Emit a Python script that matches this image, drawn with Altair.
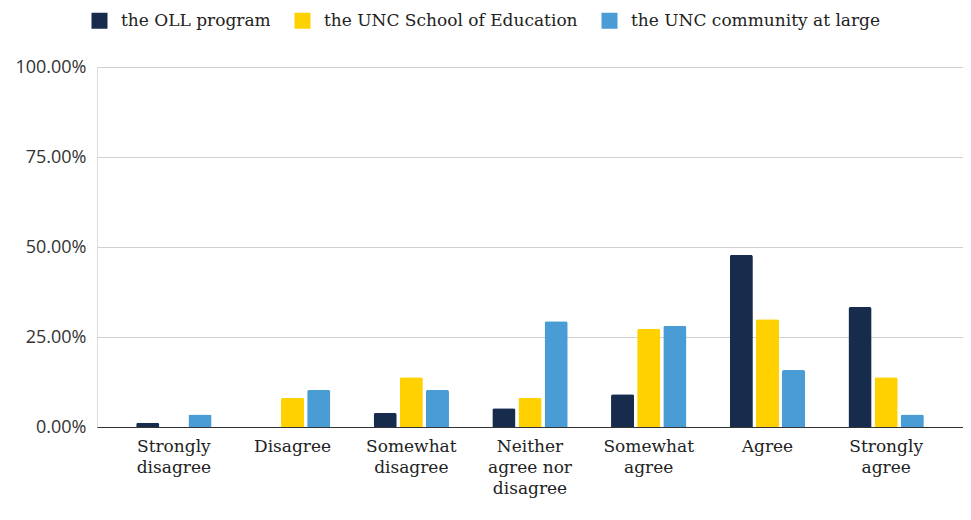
import altair as alt
import pandas as pd

categories = ["Strongly disagree", "Disagree", "Somewhat disagree",
              "Neither agree nor disagree", "Somewhat agree", "Agree", "Strongly agree"]
series = ["the OLL program", "the UNC School of Education", "the UNC community at large"]
oll = [0.012, 0.0, 0.039, 0.052, 0.091, 0.478, 0.333]
school = [0.0, 0.081, 0.138, 0.081, 0.273, 0.299, 0.138]
community = [0.035, 0.103, 0.103, 0.294, 0.281, 0.158, 0.035]
colors = ["#172b4d", "#ffd100", "#4a9cd4"]

rows = []
for s, vals in zip(series, [oll, school, community]):
    for c, v in zip(categories, vals):
        rows.append({"category": c, "series": s, "value": v})
df = pd.DataFrame(rows)

label_expr = ("datum.label == 'Neither agree nor disagree' ? ['Neither', 'agree nor', 'disagree'] : "
              "split(datum.label, ' ')")

chart = alt.Chart(df).mark_bar(
    cornerRadiusTopLeft=2, cornerRadiusTopRight=2
).encode(
    x=alt.X("category:N", sort=categories, title=None,
            scale=alt.Scale(paddingInner=0.365, paddingOuter=0.33),
            axis=alt.Axis(labelAngle=0, labelExpr=label_expr, labelFont="DejaVu Serif",
                          labelFontSize=17, labelColor="#222", labelLineHeight=21,
                          labelPadding=11, ticks=False, domain=True, domainColor="#333",
                          labelBaseline="top", labelLimit=0)),
    xOffset=alt.XOffset("series:N", sort=series,
                        scale=alt.Scale(paddingInner=0.115, paddingOuter=0)),
    y=alt.Y("value:Q", title=None,
            scale=alt.Scale(domain=[0, 1]),
            axis=alt.Axis(values=[0, 0.25, 0.5, 0.75, 1.0], format=".2%",
                          labelFont="Open Sans", labelFontSize=18, labelColor="#333",
                          labelPadding=11, ticks=False, domain=False,
                          gridColor="#d0d0d0", gridWidth=1)),
    color=alt.Color("series:N", sort=series,
                    scale=alt.Scale(domain=series, range=colors),
                    legend=alt.Legend(title=None, orient="none", direction="horizontal",
                                      legendX=-6, legendY=-55,
                                      symbolType="square", symbolSize=256,
                                      symbolStrokeWidth=0,
                                      labelFont="DejaVu Serif", labelFontSize=17,
                                      labelColor="#222", labelOffset=13, labelLimit=0,
                                      columnPadding=23)),
).properties(
    width=866, height=360,
    autosize=alt.AutoSizeParams(type="none"),
    padding={"left": 89, "top": 59, "right": 0, "bottom": 85},
).configure_view(stroke=None).configure(background="white")

chart.save("out.html", embed_options={"renderer": "svg", "actions": False})
